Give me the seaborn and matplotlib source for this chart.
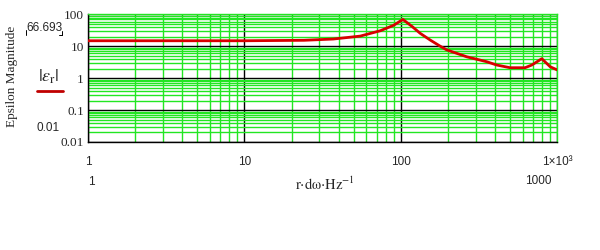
import matplotlib
matplotlib.use("Agg")
import matplotlib.pyplot as plt
from matplotlib.lines import Line2D
import matplotlib.ticker as mticker
import seaborn as sns
import pandas as pd
import numpy as np

# data
freq = [1, 10, 24, 37, 55, 74, 90, 103, 118, 133, 154, 178, 196, 264, 354, 410, 499, 622, 687, 796, 900, 1000]
eps = [15, 15, 15.5, 17, 21, 31, 46, 70, 42, 25.6, 15.8, 10.2, 7.8, 4.7, 3.3, 2.6, 2.14, 2.14, 2.6, 4.1, 2.3, 1.82]
x_ticks = [1, 10, 100, 1000]
x_tick_labels = ["1", "10", "100", "1×10³"]
y_ticks = [0.01, 0.1, 1, 10, 100]
y_tick_labels = ["0.01", "0.1", "1", "10", "100"]

df = pd.DataFrame({"freq": freq, "eps": eps})

sns.set_style("white")
plt.rcParams["font.family"] = ["Liberation Sans", "DejaVu Sans"]
plt.rcParams["mathtext.fontset"] = "stix"

fig = plt.figure(figsize=(6, 2.5), dpi=100)
W, H = 600, 250
ax = fig.add_axes([88 / W, 1 - 142 / H, (557.3 - 88) / W, (142 - 14.5) / H])

green = "#22e622"
ax.set_xscale("log")
ax.set_yscale("log")
ax.set_xlim(1, 1000)
ax.set_ylim(0.01, 100)

ax.xaxis.set_minor_locator(mticker.LogLocator(base=10, subs=np.arange(2, 10)))
ax.yaxis.set_minor_locator(mticker.LogLocator(base=10, subs=np.arange(2, 10)))
ax.xaxis.set_minor_formatter(mticker.NullFormatter())
ax.yaxis.set_minor_formatter(mticker.NullFormatter())
ax.grid(which="minor", color=green, linewidth=1.0)
ax.grid(which="major", color="black", linewidth=1.0)
ax.set_axisbelow(True)

sns.lineplot(data=df, x="freq", y="eps", ax=ax, color="#d80000", linewidth=2.0, zorder=5)

ax.set_xticks(x_ticks)
ax.set_xticklabels(x_tick_labels, fontsize=8.5)
ax.set_yticks(y_ticks)
ax.set_yticklabels(y_tick_labels, fontsize=9.5, family="Liberation Serif")
ax.tick_params(which="both", length=0)
ax.tick_params(axis="x", pad=10)
ax.tick_params(axis="y", pad=3)
ax.set_xlabel("")
ax.set_ylabel("")

for s in ["left", "bottom"]:
    ax.spines[s].set_color("black")
    ax.spines[s].set_linewidth(1.0)
for s in ["top", "right"]:
    ax.spines[s].set_color(green)
    ax.spines[s].set_linewidth(1.0)

def fx(px):
    return px / W

def fy(py):
    return 1 - py / H

fig.text(fx(12), fy(76), "Epsilon Magnitude", rotation=90, ha="center", va="center",
         fontsize=9.5, family="Liberation Serif")
fig.text(fx(44), fy(28), "66.693", ha="center", va="center", fontsize=8.5)
# placeholder corner marks
fig.add_artist(Line2D([fx(25.5), fx(25.5)], [fy(30), fy(35)], color="black", lw=0.7))
fig.add_artist(Line2D([fx(62), fx(62)], [fy(31), fy(35)], color="black", lw=0.7))
fig.add_artist(Line2D([fx(59), fx(62)], [fy(35), fy(35)], color="black", lw=0.7))
fig.text(fx(49), fy(77), r"$|\varepsilon_{\mathrm{r}}|$", ha="center", va="center", fontsize=13)
fig.add_artist(Line2D([fx(37), fx(63)], [fy(91), fy(91)], color="#c00000", lw=2))
fig.text(fx(48), fy(128), "0.01", ha="center", va="center", fontsize=8.5)

fig.text(fx(91), fy(182), "1", ha="center", va="center", fontsize=8.5)
fig.text(fx(538), fy(181), "1000", ha="center", va="center", fontsize=8.5)
fig.text(fx(325), fy(184), r"$\mathrm{r{\cdot}d\omega{\cdot}Hz}^{-1}$", ha="center", va="center",
         fontsize=10.5)

fig.savefig("out.png", dpi=100)
